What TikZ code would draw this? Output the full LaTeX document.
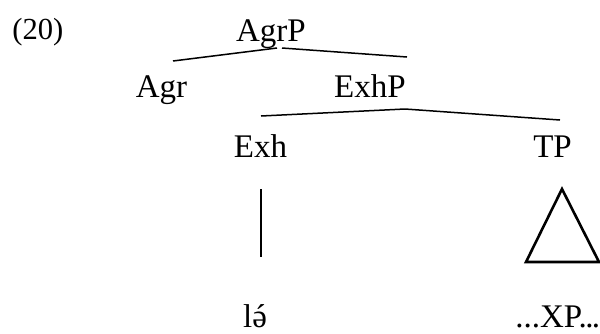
\documentclass[tikz,border=0pt]{standalone}
\usepackage{fontspec}
\setmainfont{Liberation Serif}
% place a spacing acute centred over a letter
\newcommand\acuteon[1]{\setbox0\hbox{#1}\rlap{#1}\hbox to\wd0{\hss\kern0.06em ´\hss}}
\begin{document}
\begin{tikzpicture}[x=0.5pt,y=-0.5pt,
  lbl/.style={anchor=base,inner sep=0pt,font=\fontsize{16.5pt}{18pt}\selectfont},
  branch/.style={line width=0.75pt},
  roof/.style={line width=1.3pt,line join=miter}]
\useasboundingbox (0,0) rectangle (600,333);

% example number
\node[lbl,anchor=base west,font=\fontsize{15.3pt}{17pt}\selectfont] (num) at (12,39) {(20)};

% tree labels
\node[lbl] (agrp) at (271,41) {AgrP};
\node[lbl] (agr)  at (161.5,97) {Agr};
\node[lbl] (exhp) at (370,97) {ExhP};
\node[lbl] (exh)  at (260.5,157) {Exh};
\node[lbl] (tp)   at (552.5,157) {TP};
\node[lbl] (le)   at (255,327) {l\acuteon{ə}};
\node[lbl,anchor=base west] (xp) at (515,327) {...XP.\kern-0.8pt.\kern-0.8pt.};

% branch end points
\coordinate (agrp-l) at (277,48);
\coordinate (agrp-r) at (282,48);
\coordinate (agr-t)  at (173,61);
\coordinate (exhp-t) at (407,57);
\coordinate (exhp-b) at (405,109);
\coordinate (exh-t)  at (261,116);
\coordinate (tp-t)   at (560,120);
\coordinate (exh-b)  at (261,189);
\coordinate (le-t)   at (261,257);
\coordinate (tri-a)  at (562,189);
\coordinate (tri-l)  at (526,262);
\coordinate (tri-r)  at (599,262);

% branches
\draw[branch] (agr-t) -- (agrp-l);
\draw[branch] (agrp-r) -- (exhp-t);
\draw[branch] (exh-t) -- (exhp-b) -- (tp-t);
\draw[branch] (exh-b) -- (le-t);

% triangle over TP
\draw[roof] (tri-a) -- (tri-l) -- (tri-r) -- cycle;
\end{tikzpicture}
\end{document}
